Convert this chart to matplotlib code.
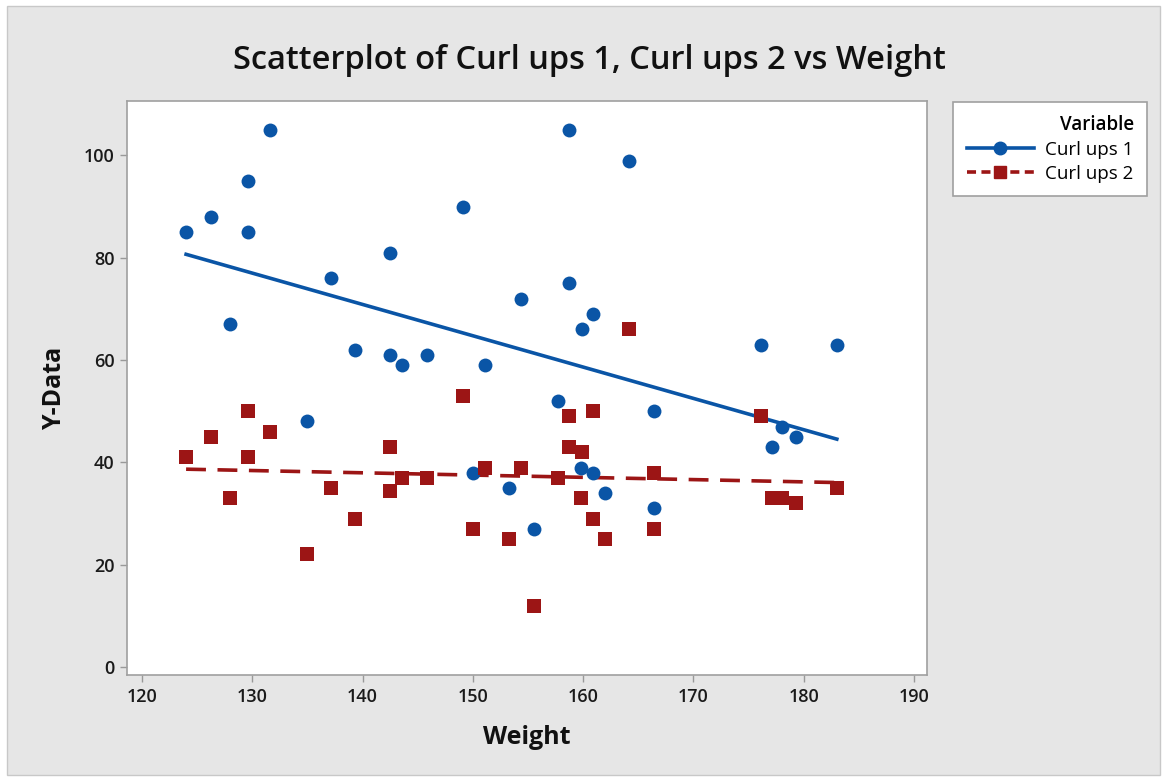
import numpy as np
import matplotlib
matplotlib.use("Agg")
import matplotlib.pyplot as plt
from matplotlib.patches import Rectangle

plt.rcParams['font.family'] = ['Open Sans', 'DejaVu Sans']

# data
weight = [124, 126.3, 128, 129.6, 129.6, 131.6, 135, 137.1, 139.3, 142.5,
          142.5, 143.6, 145.8, 149.1, 150, 151.1, 153.3, 154.4, 155.5, 157.7,
          158.7, 158.7, 159.9, 159.8, 160.9, 160.9, 162, 164.2, 166.4, 166.4,
          176.1, 177.1, 178, 179.3, 183]
curl1 = [85, 88, 67, 95, 85, 105, 48, 76, 62, 81,
         61, 59, 61, 90, 38, 59, 35, 72, 27, 52,
         105, 75, 66, 39, 69, 38, 34, 99, 50, 31,
         63, 43, 47, 45, 63]
curl2 = [41, 45, 33, 50, 41, 46, 22, 35, 29, 43,
         34.5, 37, 37, 53, 27, 39, 25, 39, 12, 37,
         49, 43, 42, 33, 50, 29, 25, 66, 38, 27,
         49, 33, 33, 32, 35]

blue = '#0a55a6'
red = '#9c1515'

fig = plt.figure(figsize=(11.67, 7.81), dpi=100, facecolor='white')
fig.patches.append(Rectangle((0.006, 0.008), 0.988, 0.984, transform=fig.transFigure,
                             facecolor='#e6e6e6', edgecolor='#c8c8c8', lw=1, zorder=-10))
ax = fig.add_axes([0.1088, 0.1357, 0.6855, 0.735])
ax.set_facecolor('white')

x = np.array(weight)
xs = np.array([x.min(), x.max()])
for ys, c, mk, ls in [(curl1, blue, 'o', '-'),
                      (curl2, red, 's', (0, (5.5, 3.2)))]:
    ys = np.array(ys)
    ax.scatter(x, ys, s=100, marker=mk, color=c, zorder=3, linewidths=0)
    b, a = np.polyfit(x, ys, 1)
    ax.plot(xs, a + b * xs, color=c, lw=2.6, linestyle=ls, zorder=2)

ax.set_xlim(118.64, 191.17)
ax.set_ylim(-1.56, 110.65)
ax.set_xticks(range(120, 191, 10))
ax.set_yticks(range(0, 101, 20))
ax.tick_params(direction='out', length=5, width=1, color='#999999',
               labelsize=13, labelcolor='#1a1a1a', pad=4)
for lbl in ax.get_xticklabels() + ax.get_yticklabels():
    lbl.set_fontweight('semibold')
for sp in ax.spines.values():
    sp.set_color('#a0a0a0')
    sp.set_linewidth(1.2)

ax.set_xlabel('Weight', fontsize=18, fontweight='bold', color='#111111', labelpad=14)
ax.set_ylabel('Y-Data', fontsize=18, fontweight='bold', color='#111111', labelpad=12)
fig.text(0.505, 0.923, 'Scatterplot of Curl ups 1, Curl ups 2 vs Weight',
         ha='center', va='center', fontsize=23.5, fontweight='semibold', color='#111111')

h1, = ax.plot([], [], color=blue, lw=2.6, marker='o', markersize=9)
h2, = ax.plot([], [], color=red, lw=2.6, marker='s', markersize=9,
              linestyle=(0, (2.5, 1.5)))
leg = fig.legend([h1, h2], ['Curl ups 1', 'Curl ups 2'], title='Variable',
                 loc='upper left', bbox_to_anchor=(0.817, 0.869),
                 fontsize=13.5, title_fontsize=13.5, frameon=True, fancybox=False,
                 edgecolor='#a0a0a0', facecolor='white', framealpha=1,
                 handlelength=3.6, borderpad=0.7, labelspacing=0.3,
                 handletextpad=0.6, borderaxespad=0)
leg.get_frame().set_linewidth(1.2)
leg.get_title().set_fontweight('semibold')
leg._legend_box.align = 'right'

fig.savefig('out.png', dpi=100, facecolor=fig.get_facecolor())
